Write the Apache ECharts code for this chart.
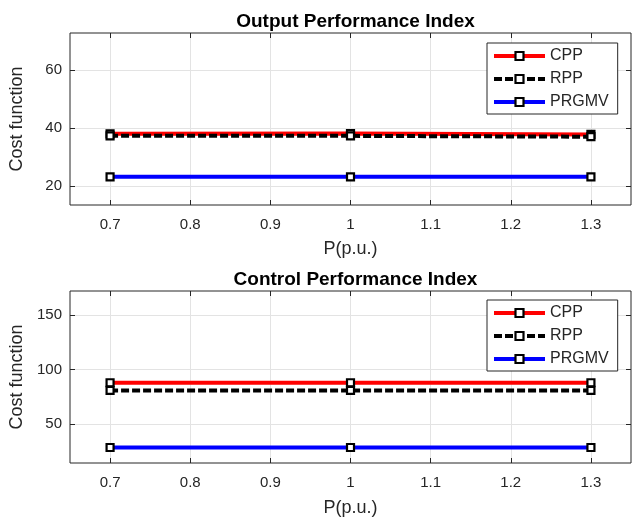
<!DOCTYPE html>
<html>
<head>
<meta charset="utf-8">
<script src="https://cdn.jsdelivr.net/npm/echarts@6/dist/echarts.min.js"></script>
<style>html,body{margin:0;padding:0;background:#fff;}#c{width:637px;height:518px;}</style>
</head>
<body>
<div id="c"></div>
<script>
// ---- data ----
var P = [0.7, 1.0, 1.3];
var xTicks = [0.7, 0.8, 0.9, 1.0, 1.1, 1.2, 1.3];
var seriesNames = ['CPP', 'RPP', 'PRGMV'];
var outCPP = [38.0, 38.1, 37.8];
var outRPP = [37.3, 37.3, 37.0];
var outPRGMV = [23.2, 23.2, 23.2];
var ctrlCPP = [88.0, 88.0, 88.0];
var ctrlRPP = [81.0, 81.0, 81.0];
var ctrlPRGMV = [28.7, 28.7, 28.7];
var outYTicks = [20, 40, 60];
var ctrlYTicks = [50, 100, 150];
var titles = ['Output Performance Index', 'Control Performance Index'];

var FONT = "'Liberation Sans', Arial, Helvetica, sans-serif";
var AX = '#262626';
var GRIDC = '#e3e3e3';
var colors = ['#ff0000', '#000000', '#0000ff'];
var lineTypes = ['solid', [8, 3], 'solid'];

function zip(xs, ys) { return xs.map(function (x, i) { return [x, ys[i]]; }); }
function fmt(v) { return String(+(+v).toFixed(2)); }

var grids = [
  { left: 70, top: 33, width: 561, height: 172 },
  { left: 70, top: 291, width: 561, height: 172 }
];

function xAx(gi, nameGap) {
  return [{
    type: 'value', gridIndex: gi, min: 0.65, max: 1.35, position: 'bottom',
    name: 'P(p.u.)', nameLocation: 'middle', nameGap: nameGap,
    nameTextStyle: { fontFamily: FONT, fontSize: 18, color: AX },
    axisLine: { show: false },
    axisTick: { show: true, inside: true, length: 5, customValues: xTicks, lineStyle: { color: AX } },
    axisLabel: { customValues: xTicks, formatter: fmt, margin: 12, fontFamily: FONT, fontSize: 15, color: AX },
    splitLine: { show: true, lineStyle: { color: GRIDC, width: 1 } }
  }, {
    type: 'value', gridIndex: gi, min: 0.65, max: 1.35, position: 'top',
    axisLine: { show: false },
    axisTick: { show: true, inside: true, length: 5, customValues: xTicks, lineStyle: { color: AX } },
    axisLabel: { show: false, customValues: xTicks },
    splitLine: { show: false }
  }];
}
function yAx(gi, min, max, ticks) {
  return [{
    type: 'value', gridIndex: gi, min: min, max: max, position: 'left',
    name: 'Cost function', nameLocation: 'middle', nameGap: 44,
    nameTextStyle: { fontFamily: FONT, fontSize: 18, color: AX },
    axisLine: { show: false },
    axisTick: { show: true, inside: true, length: 5, customValues: ticks, lineStyle: { color: AX } },
    axisLabel: { customValues: ticks, margin: 8, fontFamily: FONT, fontSize: 15, color: AX },
    splitLine: { show: true, lineStyle: { color: GRIDC, width: 1 } }
  }, {
    type: 'value', gridIndex: gi, min: min, max: max, position: 'right',
    axisLine: { show: false },
    axisTick: { show: true, inside: true, length: 5, customValues: ticks, lineStyle: { color: AX } },
    axisLabel: { show: false, customValues: ticks },
    splitLine: { show: false }
  }];
}

var xAxes = xAx(0, 35).concat(xAx(1, 36));
var yAxes = yAx(0, 13.5, 72.7, outYTicks).concat(yAx(1, 14.5, 172, ctrlYTicks));

function mk(name, idx, data, xi, yi) {
  return {
    type: 'line', name: name, xAxisIndex: xi, yAxisIndex: yi,
    data: data, symbol: 'rect', symbolSize: 7, showSymbol: true,
    lineStyle: { color: colors[idx], width: 4, type: lineTypes[idx] },
    itemStyle: { color: '#ffffff', borderColor: '#000000', borderWidth: 2.2 },
    emphasis: { disabled: true }, animation: false, z: 2 + idx
  };
}

var series = [
  mk('CPP', 0, zip(P, outCPP), 0, 0),
  mk('RPP', 1, zip(P, outRPP), 0, 0),
  mk('PRGMV', 2, zip(P, outPRGMV), 0, 0),
  mk('CPP', 0, zip(P, ctrlCPP), 2, 2),
  mk('RPP', 1, zip(P, ctrlRPP), 2, 2),
  mk('PRGMV', 2, zip(P, ctrlPRGMV), 2, 2)
];

function legend(top) {
  return {
    orient: 'vertical', left: 487, top: top, data: seriesNames,
    backgroundColor: '#ffffff', borderColor: AX, borderWidth: 1,
    padding: [5, 9, 4, 5], itemWidth: 51, itemHeight: 10, itemGap: 7,
    selectedMode: false,
    lineStyle: { width: 4 },
    itemStyle: { borderWidth: 2.2 },
    textStyle: { fontFamily: FONT, fontSize: 16, color: AX, padding: [0, 0, 0, 0] }
  };
}

var chart = echarts.init(document.getElementById('c'), null, { renderer: 'canvas' });
chart.setOption({
  animation: false,
  backgroundColor: '#ffffff',
  title: [
    { text: titles[0], left: 350.5, top: 7, textAlign: 'center', textStyle: { fontFamily: FONT, fontSize: 19, fontWeight: 'bold', color: '#000' } },
    { text: titles[1], left: 350.5, top: 265, textAlign: 'center', textStyle: { fontFamily: FONT, fontSize: 19, fontWeight: 'bold', color: '#000' } }
  ],
  grid: grids.map(function (g) { return Object.assign({ show: true, borderColor: AX, borderWidth: 1, backgroundColor: 'transparent', containLabel: false }, g); }),
  xAxis: xAxes,
  yAxis: yAxes,
  legend: [
    Object.assign(legend(43), { id: 'l0' }),
    Object.assign(legend(300), { id: 'l1' })
  ],
  series: series
});
</script>
</body>
</html>
